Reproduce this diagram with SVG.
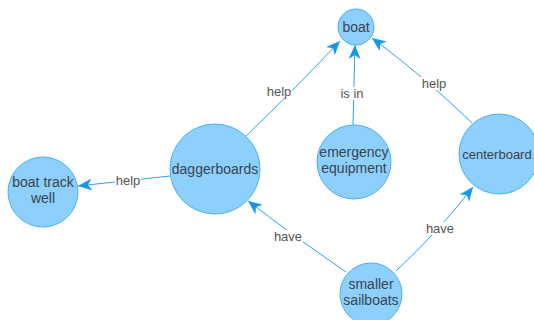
<svg xmlns="http://www.w3.org/2000/svg" width="534" height="320" viewBox="0 0 534 320">
<style>
.n{fill:#8dd0fb;stroke:#4ab0f2;stroke-width:1}
.t{font-family:"Liberation Sans",Arial,sans-serif;font-size:14px;fill:#3a4350;text-anchor:middle}
.e{fill:none;stroke:#2ea4ef;stroke-width:1}
.l{font-family:"Liberation Sans",Arial,sans-serif;font-size:13px;fill:#555;text-anchor:middle}
.lb{fill:#fff}
</style>
<defs>
<marker id="a" viewBox="0 0 14 12" refX="14" refY="6" markerWidth="14" markerHeight="12" markerUnits="userSpaceOnUse" orient="auto">
<path d="M0,0 L14,6 L0,12 L4,6 Z" fill="#1597ea"/>
</marker>
</defs>
<rect width="534" height="320" fill="#fff"/>
<g id="connectors">
<path class="e" d="M245,137 Q288,96 340,41" marker-end="url(#a)"/>
<path class="e" d="M353,125 L355,45" marker-end="url(#a)"/>
<path class="e" d="M472,123 Q426,78 372,38" marker-end="url(#a)"/>
<path class="e" d="M170,176 L78,186" marker-end="url(#a)"/>
<path class="e" d="M346,272 Q296,238 248,201" marker-end="url(#a)"/>
<path class="e" d="M396,271 Q438,232 473,187" marker-end="url(#a)"/>
<rect class="lb" x="266" y="85" width="26" height="13"/>
<text class="l" x="279" y="96">help</text>
<rect class="lb" x="339" y="87" width="27" height="13"/>
<text class="l" x="352" y="98">is in</text>
<rect class="lb" x="421" y="77" width="26" height="13"/>
<text class="l" x="434" y="88">help</text>
<rect class="lb" x="115" y="174" width="26" height="13"/>
<text class="l" x="128" y="185">help</text>
<rect class="lb" x="273" y="230" width="30" height="13"/>
<text class="l" x="288" y="241">have</text>
<rect class="lb" x="425" y="222" width="30" height="13"/>
<text class="l" x="440" y="233">have</text>
</g>
<g id="boat"><circle class="n" cx="356" cy="27" r="18"/><text class="t" x="356" y="32">boat</text></g>
<g id="daggerboards"><circle class="n" cx="215" cy="169" r="45"/><text class="t" x="215" y="174">daggerboards</text></g>
<g id="emergency-equipment"><circle class="n" cx="354" cy="162" r="37"/><text class="t" x="354" y="157">emergency</text><text class="t" x="354" y="173">equipment</text></g>
<g id="centerboard"><circle class="n" cx="499" cy="154" r="40"/><text class="t" x="497" y="159" style="font-size:13px">centerboard</text></g>
<g id="boat-track-well"><circle class="n" cx="43" cy="192" r="35"/><text class="t" x="43" y="187">boat track</text><text class="t" x="43" y="203">well</text></g>
<g id="smaller-sailboats"><circle class="n" cx="371" cy="294" r="31"/><text class="t" x="371" y="289">smaller</text><text class="t" x="371" y="305">sailboats</text></g>
</svg>
